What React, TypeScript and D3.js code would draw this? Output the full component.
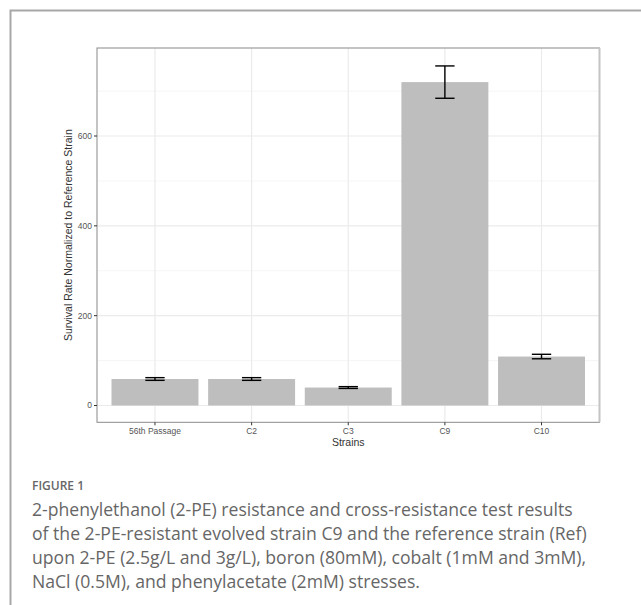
import React from "react";
import * as d3 from "d3";

const strains = ["56th Passage", "C2", "C3", "C9", "C10"];
const means = [59, 59, 40, 720, 109];
const errors = [3, 3, 2, 36, 5];
const yMajorTicks = [0, 200, 400, 600];
const yMinorTicks = [100, 300, 500, 700];
const captionTitle = "FIGURE 1";
const captionLines = [
  "2-phenylethanol (2-PE) resistance and cross-resistance test results",
  "of the 2-PE-resistant evolved strain C9 and the reference strain (Ref)",
  "upon 2-PE (2.5g/L and 3g/L), boron (80mM), cobalt (1mM and 3mM),",
  "NaCl (0.5M), and phenylacetate (2mM) stresses.",
];

export default function App() {
  const W = 641, H = 605;
  const left = 97, right = 599.5, top = 48, bottom = 422.3;
  const y = d3.scaleLinear().domain([0, 600]).range([405.5, 136]);
  const x = d3.scalePoint().domain(strains).range([left, right]).padding(0.6);
  const unit = x.step();
  const bw = 0.9 * unit;
  const capW = 0.2 * unit;
  const font = "Liberation Sans, Arial, sans-serif";
  return (
    <svg width={W} height={H} style={{ position: "absolute", left: 0, top: 0, display: "block" }}>
      <rect x={0} y={0} width={W} height={H} fill="#fff" />
      <path d={`M10.5,${H} V10.5 H${W}`} fill="none" stroke="#a8a8a8" strokeWidth={2} />
      {yMinorTicks.map((t) => (
        <line key={"mn" + t} x1={left} x2={right} y1={y(t)} y2={y(t)} stroke="#f4f4f4" strokeWidth={0.8} />
      ))}
      {yMajorTicks.map((t) => (
        <line key={"mj" + t} x1={left} x2={right} y1={y(t)} y2={y(t)} stroke="#ebebeb" strokeWidth={1.2} />
      ))}
      {strains.map((s) => (
        <line key={"vg" + s} x1={x(s)} x2={x(s)} y1={top} y2={bottom} stroke="#ebebeb" strokeWidth={1.2} />
      ))}
      {strains.map((s, i) => (
        <rect key={"b" + s} x={(x(s) as number) - bw / 2} y={y(means[i])} width={bw} height={y(0) - y(means[i])} fill="#bebebe" />
      ))}
      {strains.map((s, i) => {
        const c = x(s) as number;
        const yt = y(means[i] + errors[i]);
        const yb = y(means[i] - errors[i]);
        return (
          <g key={"e" + s} stroke="#000" strokeWidth={1.4}>
            <line x1={c} x2={c} y1={yt} y2={yb} />
            <line x1={c - capW / 2} x2={c + capW / 2} y1={yt} y2={yt} />
            <line x1={c - capW / 2} x2={c + capW / 2} y1={yb} y2={yb} />
          </g>
        );
      })}
      <rect x={left} y={top} width={right - left} height={bottom - top} fill="none" stroke="#8a8a8a" strokeWidth={1} />
      <line x1={right} x2={right} y1={top} y2={bottom} stroke="#c4c4c4" strokeWidth={2} />
      {yMajorTicks.map((t) => (
        <g key={"yt" + t}>
          <line x1={left - 3} x2={left} y1={y(t)} y2={y(t)} stroke="#333" strokeWidth={1} />
          <text x={left - 5} y={y(t)} dy="0.35em" textAnchor="end" fontSize={8.5} fill="#555" fontFamily={font}>{t}</text>
        </g>
      ))}
      {strains.map((s) => (
        <g key={"xt" + s}>
          <line x1={x(s)} x2={x(s)} y1={bottom} y2={bottom + 3} stroke="#333" strokeWidth={1} />
          <text x={x(s)} y={bottom + 12} textAnchor="middle" fontSize={8.5} fill="#555" fontFamily={font}>{s}</text>
        </g>
      ))}
      <text x={(left + right) / 2} y={446} textAnchor="middle" fontSize={10.5} fill="#333" fontFamily={font}>Strains</text>
      <text transform={`translate(72,${(top + bottom) / 2}) rotate(-90)`} textAnchor="middle" fontSize={10.5} fill="#333" fontFamily={font}>
        Survival Rate Normalized to Reference Strain
      </text>
      <text x={32} y={490} fontSize={12} fill="#666" fontFamily="Open Sans, sans-serif" fontWeight={600}>{captionTitle}</text>
      {captionLines.map((l, i) => (
        <text key={"c" + i} x={32} y={516 + i * 24} fontSize={17.6} fill="#666" fontFamily="Open Sans, sans-serif">{l}</text>
      ))}
    </svg>
  );
}
